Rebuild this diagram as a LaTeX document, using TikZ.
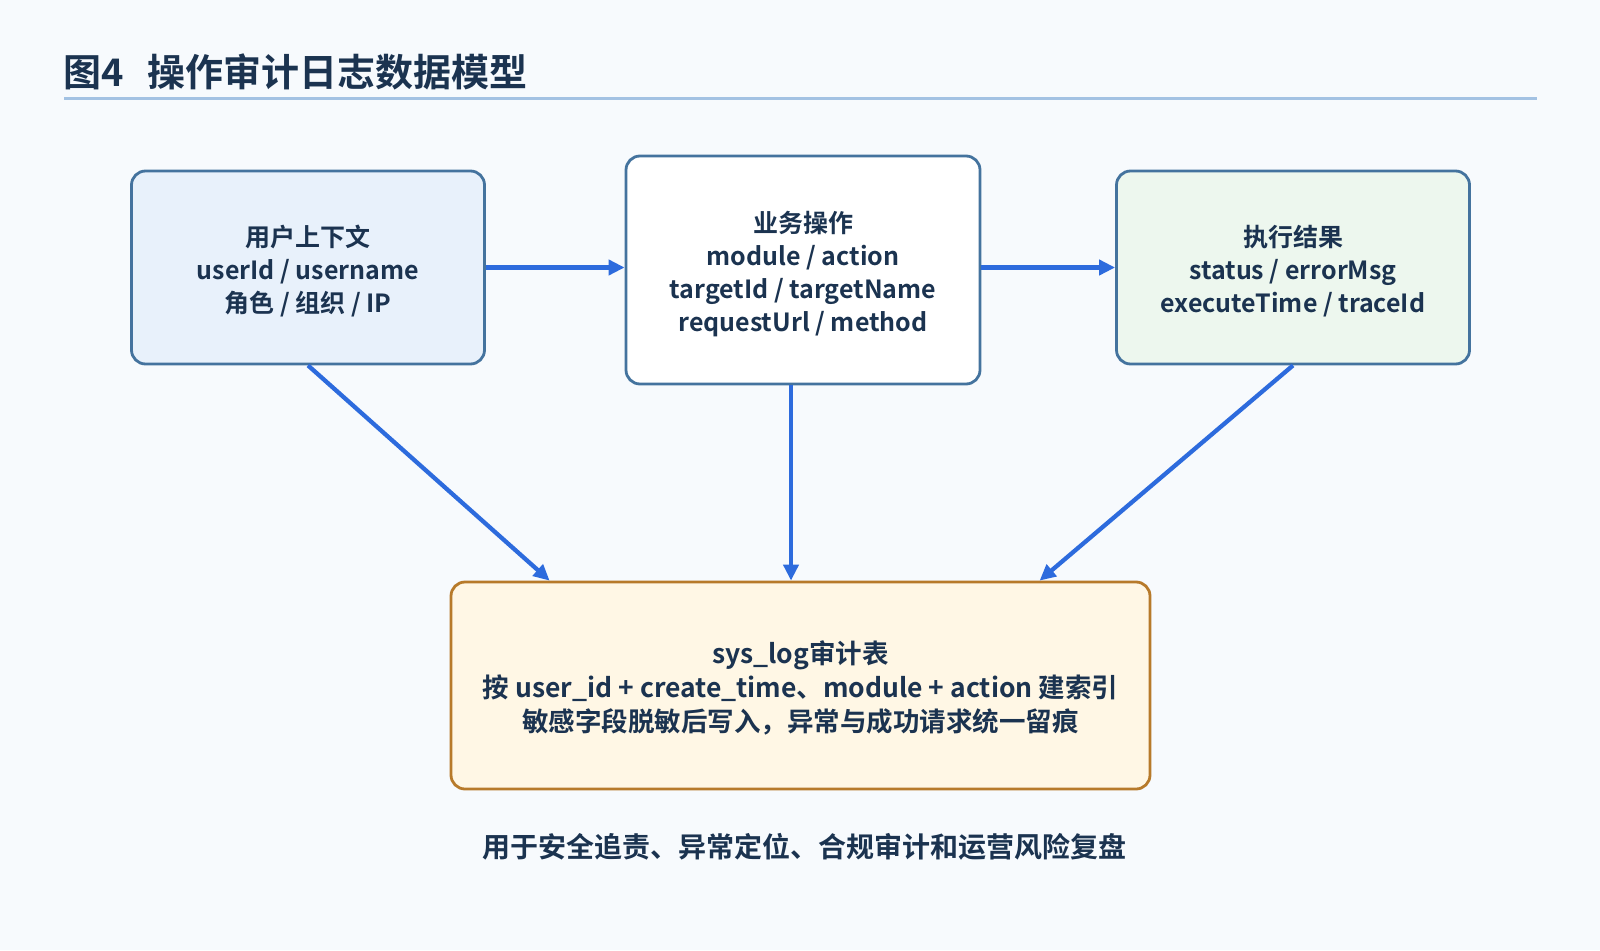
\documentclass[tikz,border=0pt]{standalone}
\usepackage{fontspec}
\setmainfont{Noto Sans CJK SC}[BoldFont={Noto Sans CJK SC Bold}]
\usetikzlibrary{arrows.meta,calc}
\definecolor{bgc}{HTML}{F7FAFD}
\definecolor{ink}{HTML}{1B3350}
\definecolor{rule}{HTML}{A3C2E3}
\definecolor{bord}{HTML}{44739E}
\definecolor{fillA}{HTML}{E8F1FB}
\definecolor{fillC}{HTML}{EDF7EE}
\definecolor{fillD}{HTML}{FFF7E5}
\definecolor{bordD}{HTML}{B77A2A}
\definecolor{arr}{HTML}{2D6BDD}
\begin{document}
\begin{tikzpicture}[x=1pt,y=-1pt,
  box/.style={draw=bord,line width=2.8pt,rounded corners=14pt,inner sep=0pt},
  lbl/.style={inner sep=0pt,text=ink,align=center,font=\bfseries\fontsize{25}{33}\selectfont},
  link/.style={draw=arr,line width=4.3pt,-{Triangle[length=16pt,width=15pt]}}]
\fill[bgc] (0,0) rectangle (1600,950);
\useasboundingbox (0,0) rectangle (1600,950);
\node[anchor=west,text=ink,font=\bfseries\fontsize{38}{40}\selectfont,inner sep=0pt] (title) at (63,72) {图4\hspace{24pt}操作审计日志数据模型};
\draw[rule,line width=2.5pt] (64,98.5) coordinate (ra) -- (1537,98.5) coordinate (rb);
\node[box,fill=fillA,minimum width=353pt,minimum height=193pt] (b1) at (308,267.5) {};
\node[box,fill=white,minimum width=354pt,minimum height=228pt] (b2) at (803,270) {};
\node[box,fill=fillC,minimum width=353pt,minimum height=193pt] (b3) at (1293,267.5) {};
\node[box,draw=bordD,fill=fillD,minimum width=699pt,minimum height=207pt] (b4) at (800.5,685.5) {};
\node[lbl] (t1) at ($(b1.center)+(0,4)$) {用户上下文\\userId / username\\角色 / 组织 / IP};
\node[lbl] (t2) at ($(b2.center)+(0,4)$) {业务操作\\module / action\\targetId / targetName\\requestUrl / method};
\node[lbl] (t3) at ($(b3.center)+(0,4)$) {执行结果\\status / errorMsg\\executeTime / traceId};
\node[lbl,font=\bfseries\fontsize{26.5}{34}\selectfont] (t4) at ($(b4.center)+(0,2)$) {sys\_log审计表\\按 user\_id + create\_time、module + action 建索引\\敏感字段脱敏后写入，异常与成功请求统一留痕};
\node[text=ink,font=\bfseries\fontsize{28}{30}\selectfont,inner sep=0pt] (cap) at (804,847) {用于安全追责、异常定位、合规审计和运营风险复盘};
\coordinate (e1) at ($(b4.north west)+(100,0)$);
\coordinate (s2) at ($(b2.south)+(-12,0)$);
\coordinate (e2) at (s2 |- b4.north);
\coordinate (e3) at ($(b4.north west)+(590,0)$);
\draw[link] (b1.east) -- (b1.east -| b2.west);
\draw[link] (b3.west -| b2.east) -- (b3.west);
\draw[link] (b1.south) -- (e1);
\draw[link] (s2) -- (e2);
\draw[link] (b3.south) -- (e3);
\end{tikzpicture}
\end{document}
